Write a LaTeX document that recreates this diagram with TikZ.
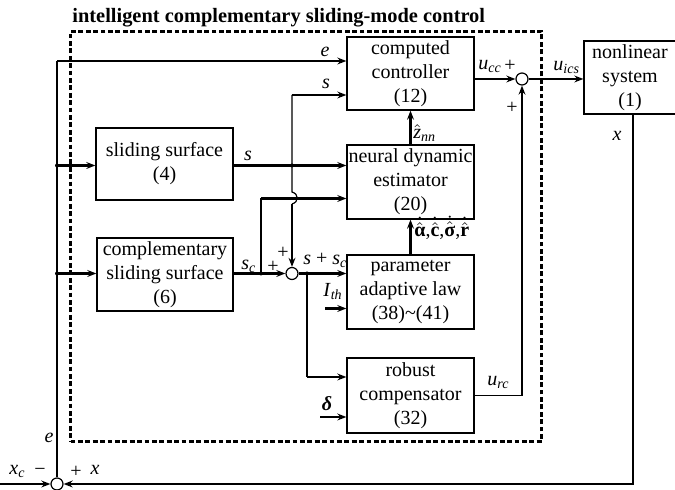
\documentclass[tikz,border=0pt]{standalone}
\usepackage{amsmath}
\usepackage{fontspec}
\setmainfont{Liberation Serif}
\usetikzlibrary{arrows.meta}

% italic variable with italic subscript
\newcommand\vsub[2]{\textit{#1}\textsubscript{\textit{#2}}}
% bold upright symbol with hat and dot
\newcommand\hdot[1]{$\dot{\hat{\text{\bfseries #1}}}$}

\begin{document}
\begin{tikzpicture}[x=0.5pt,y=-0.5pt,
  font=\fontsize{10}{12}\selectfont,
  blk/.style={draw, line width=0.6pt, minimum width=63.5pt, align=center, inner sep=0pt},
  sumj/.style={draw, circle, line width=0.6pt, minimum size=6pt, inner sep=0pt},
  thn/.style={line width=0.6pt},
  med/.style={line width=0.85pt},
  thk/.style={line width=1.1pt},
  arr/.style={-{Stealth[length=4.5pt,width=3.4pt]}},
  dotj/.style={circle, fill, inner sep=0pt, minimum size=2pt},
  lbl/.style={inner sep=0pt, anchor=base},
  lblw/.style={inner sep=0pt, anchor=base west},
  sgn/.style={inner sep=0pt},
  frame/.style={draw, line width=1.1pt, dash pattern=on 2.4pt off 1.3pt, minimum width=235.5pt, minimum height=205pt, inner sep=0pt}
]
\useasboundingbox (0,0) rectangle (675,490);

% controller frame and its title
\node[frame] (icsmc) at (306,236.5) {};
\node[lblw, font=\fontsize{10.2}{12}\selectfont\bfseries] (title) at (72,22.5) {intelligent complementary sliding-mode control};

% blocks
\node[blk, minimum height=36.5pt] (cc) at (410.5,73.5) {computed\\controller\\(12)};
\node[blk, minimum height=37pt] (nde) at (410.5,182) {neural dynamic\\estimator\\(20)};
\node[blk, minimum height=37pt] (pal) at (410.5,292) {parameter\\adaptive law\\(38)\textasciitilde(41)};
\node[blk, minimum height=37.5pt] (rc) at (410.5,395.5) {robust\\compensator\\(32)};
\node[blk, minimum width=46pt, minimum height=36.5pt] (ns) at (630,77.5) {nonlinear\\system\\(1)};
\node[blk, minimum width=68.5pt, minimum height=36pt] (ss) at (164.5,164) {sliding surface\\(4)};
\node[blk, minimum width=68pt, minimum height=36.5pt] (css) at (165,274.5) {complementary\\sliding surface\\(6)};

% summing junctions
\node[sumj] (sR) at (522,79) {};
\node[sumj] (sM) at (292,273.5) {};
\node[sumj] (sB) at (57,484) {};

% branch points and corners
\coordinate (eTop) at (57,61);
\coordinate (jS) at (57,165.5);
\coordinate (jSc) at (57,273.5);
\coordinate (sTop) at (292,95);
\coordinate (jS2) at (292,165.5);
\coordinate (jmpA) at (292,192);
\coordinate (jmpB) at (292,204);
\coordinate (jScB) at (261,273.5);
\coordinate (scUp) at (261,198.5);
\coordinate (jSum) at (307,273.5);
\coordinate (rcIn) at (307,377);
\coordinate (ith) at (325,308.5);
\coordinate (dl) at (320,417);
\coordinate (urc) at (522,395.5);
\coordinate (xCorner) at (633,484);
\coordinate (xc) at (0,484);

% tracking error e
\draw[thn] (sB.north) -- (eTop);
\draw[thk,arr] (eTop) -- (eTop -| cc.west);
\draw[thk,arr] (jS) -- (jS -| ss.west);
\draw[thk,arr] (jSc) -- (jSc -| css.west);

% sliding surface s
\draw[thk,arr] (ss.east |- jS) -- (jS -| nde.west);
\draw[thk,arr] (sTop) -- (sTop -| cc.west);
\draw[thn] (sTop) -- (jS2) -- (jmpA) .. controls (299,194) and (299,202) .. (jmpB);
\draw[thk,arr] (jmpB) -- (sM.north);

% complementary sliding surface s_c
\draw[thk,arr] (css.east |- sM) -- (sM.west);
\draw[thn] (jScB) -- (scUp);
\draw[thk,arr] (scUp) -- (scUp -| nde.west);

% s + s_c
\draw[thk,arr] (sM.east) -- (sM -| pal.west);
\draw[thn] (jSum) -- (rcIn);
\draw[thk,arr] (rcIn) -- (rcIn -| rc.west);

% external inputs
\draw[thk,arr] (ith) -- (ith -| pal.west);
\draw[thk,arr] (dl) -- (dl -| rc.west);

% estimator chain
\draw[thk,arr] (nde.north) -- (cc.south);
\draw[thk,arr] (pal.north) -- (nde.south);

% control signals
\draw[med,arr] (cc.east |- sR) -- (sR.west);
\draw[thk,arr] (sR.east) -- (sR -| ns.west);
\draw[med,arr] (rc.east |- urc) -- (urc) -- (sR.south);

% plant output feedback and command
\draw[med,arr] (xCorner |- ns.south) -- (xCorner) -- (sB.east);
\draw[thk,arr] (xc) -- (sB.west);

% junction dots
\foreach \p in {jS,jSc,jS2,jScB,jSum} \node[dotj] at (\p) {};

% signal labels
\node[lbl] at (325,57) {\textit{e}};
\node[lbl] at (326,89) {\textit{s}};
\node[lbl] at (248,161) {\textit{s}};
\node[lblw] at (241,270) {\vsub{s}{c}};
\node[sgn] at (273,266.5) {+};
\node[sgn] at (283,253) {+};
\node[lblw] at (303,265) {\textit{s} + \vsub{s}{c}};
\node[lblw] at (323,297) {\vsub{I}{th}};
\node[lbl] at (327,411) {\textbf{\textit{δ}}};
\node[lblw] at (413,139) {$\hat{\text{\itshape z}}$\textsubscript{\textit{nn}}};
\node[lblw] at (414,237) {\hdot{α},\hdot{c},\hdot{σ},\hdot{r}};
\node[lblw] at (478,70) {\vsub{u}{cc}};
\node[sgn] at (510,65.5) {+};
\node[sgn] at (512,108) {+};
\node[lblw] at (553,71) {\vsub{u}{ics}};
\node[lbl] at (617,141) {\textit{x}};
\node[lblw] at (487,386) {\vsub{u}{rc}};
\node[lbl] at (49,443) {\textit{e}};
\node[lblw] at (9,475) {\vsub{x}{c}};
\node[sgn] at (40,471.5) {−};
\node[sgn] at (76,471.5) {+};
\node[lbl] at (95,475) {\textit{x}};
\end{tikzpicture}
\end{document}
